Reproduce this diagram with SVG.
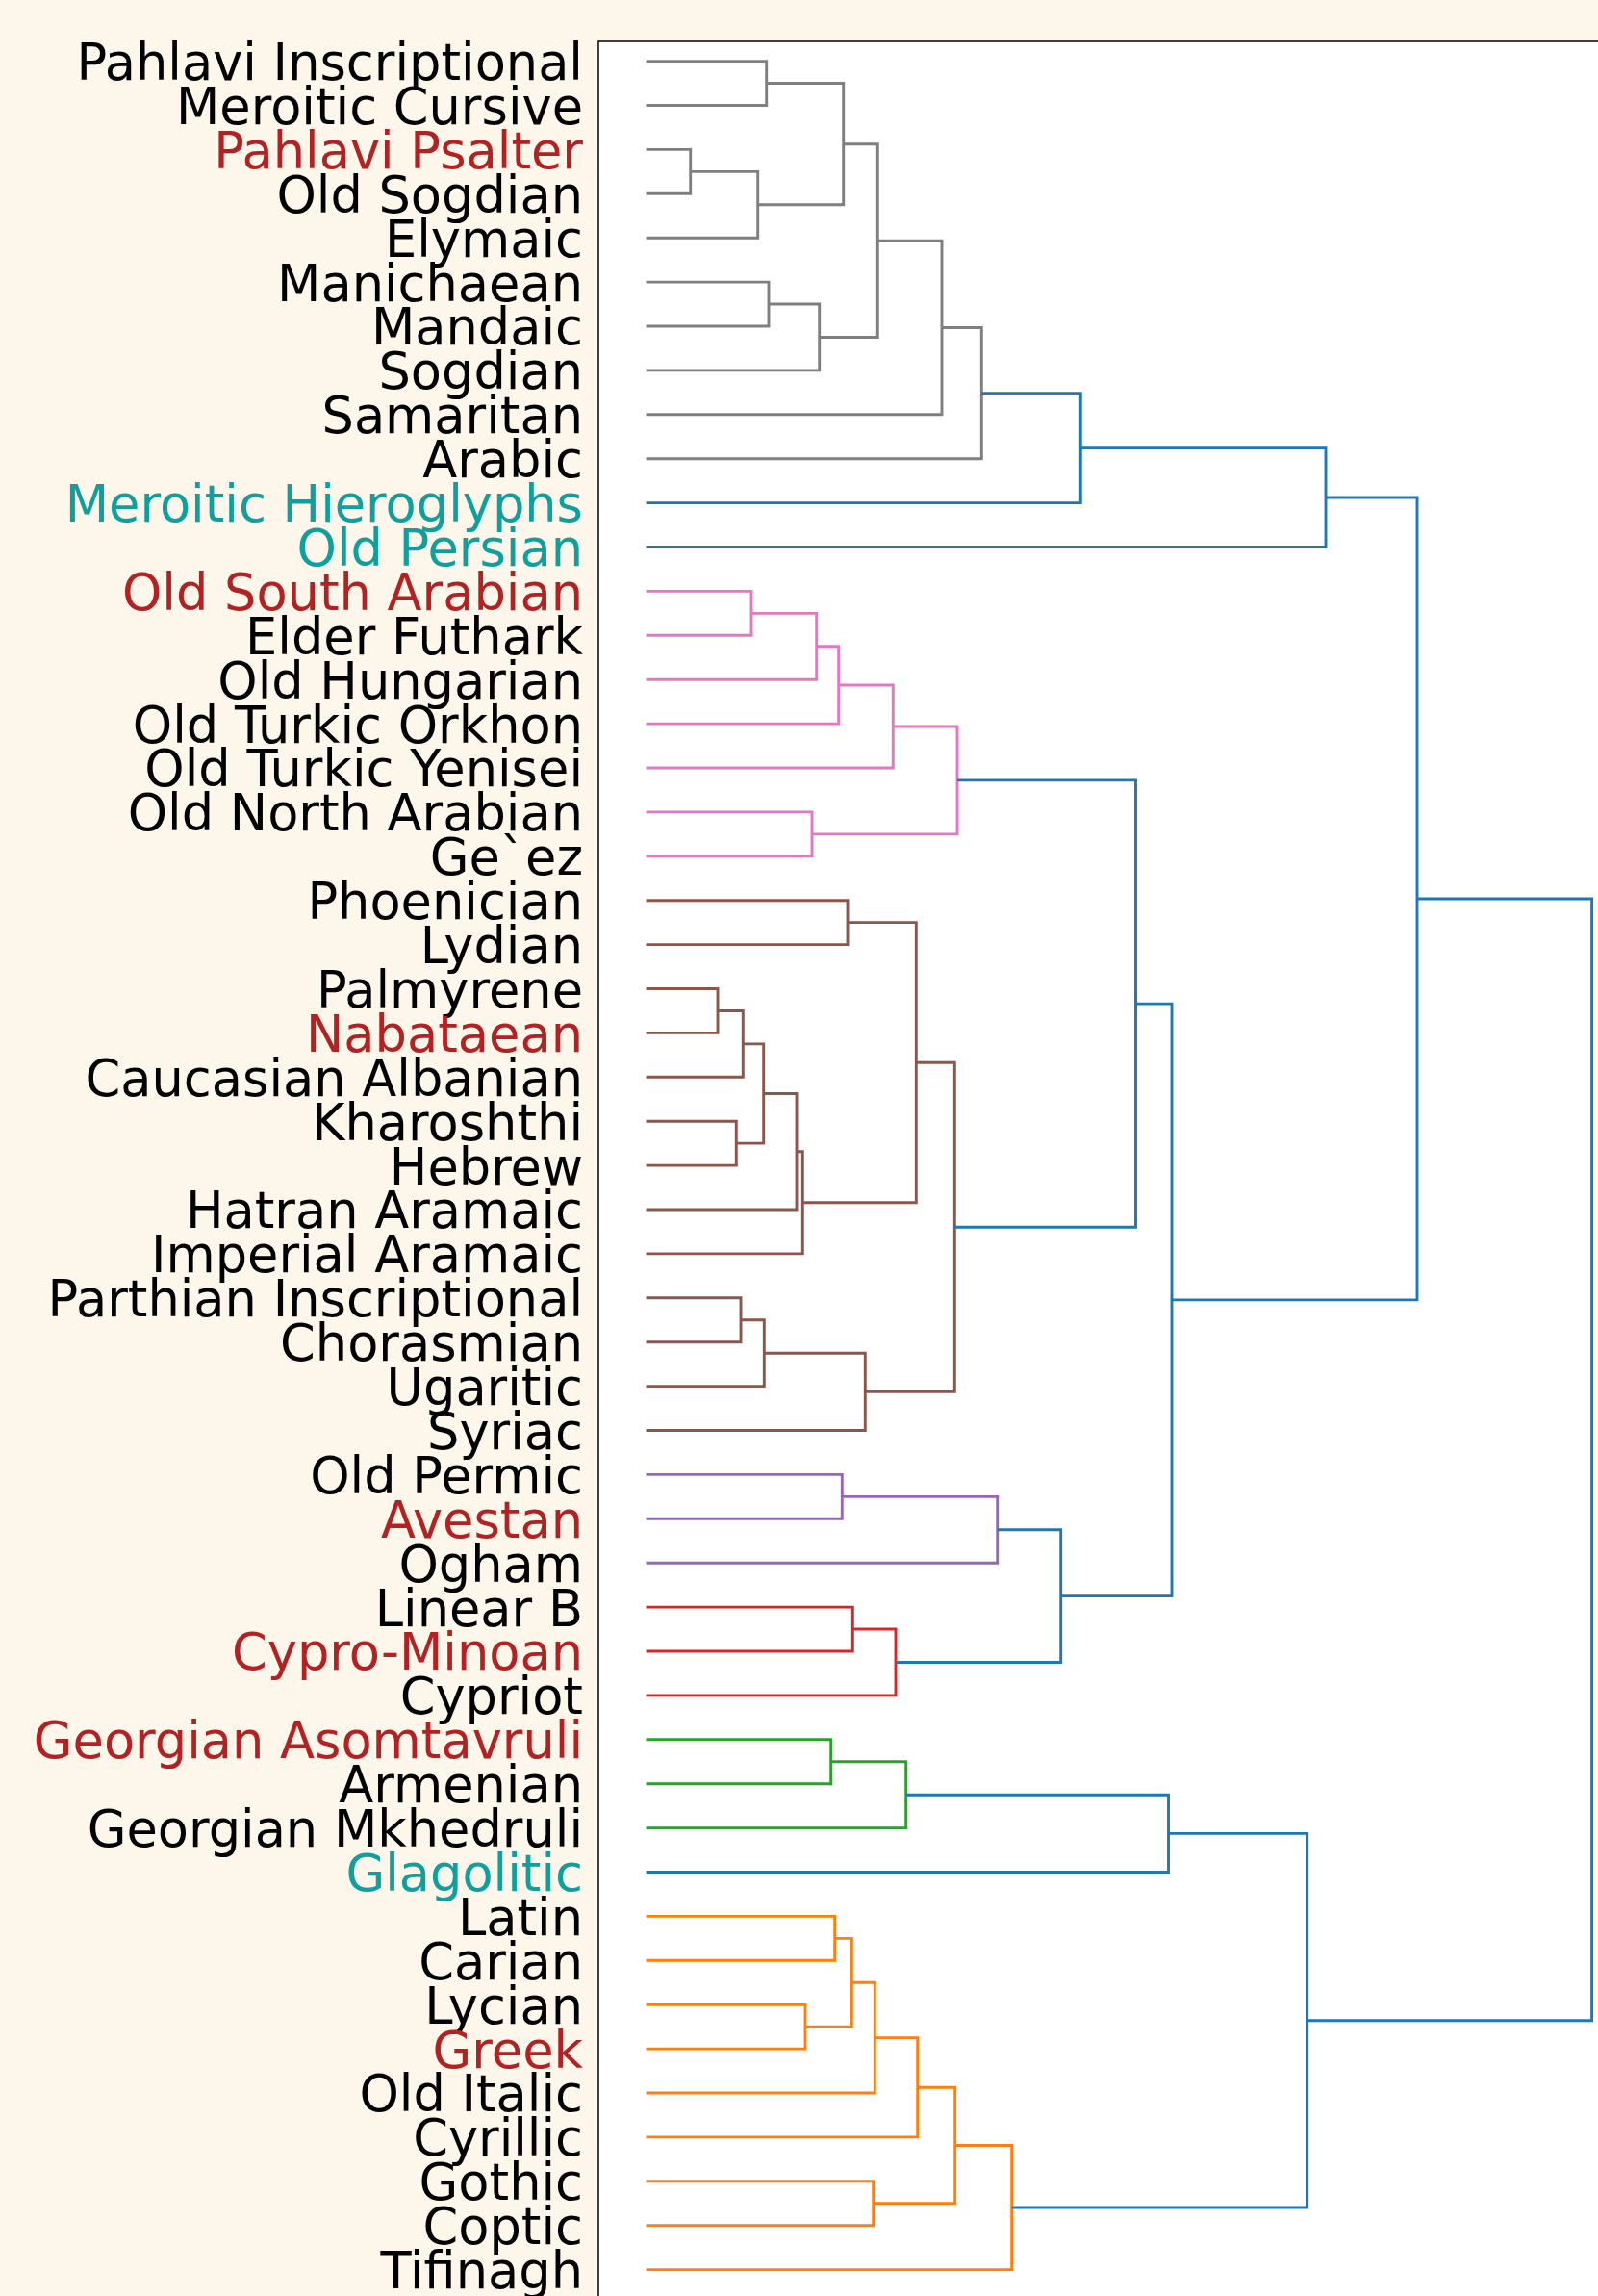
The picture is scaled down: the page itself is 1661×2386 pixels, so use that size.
<svg xmlns="http://www.w3.org/2000/svg" width="1661" height="2386" viewBox="0 0 1661 2386">
<style>
.lbl{font-family:"DejaVu Sans","Liberation Sans",sans-serif;font-size:52.6px;text-anchor:end;fill:#000}
.red{fill:#b22222}
.teal{fill:#0f9f9c}
.lk{fill:none;stroke-width:2.9;stroke-linejoin:miter;stroke-linecap:butt}
.c0{stroke:#1f77b4}.c1{stroke:#ff7f0e}.c2{stroke:#2ca02c}.c3{stroke:#d62728}.c4{stroke:#9467bd}.c5{stroke:#8c564b}.c6{stroke:#e377c2}.c7{stroke:#7f7f7f}
</style>
<rect x="0" y="0" width="1661" height="2386" fill="#fdf6eb"/>
<rect id="plot-frame" x="622" y="43" width="1100" height="2400" fill="#ffffff" stroke="#111111" stroke-width="1.6"/>
<g id="labels" transform="translate(0,-1)">
<g id="leaf-0"><text class="lbl" x="606" y="84">Pahlavi Inscriptional</text></g>
<g id="leaf-1"><text class="lbl" x="606" y="129.9">Meroitic Cursive</text></g>
<g id="leaf-2"><text class="lbl red" x="606" y="175.8">Pahlavi Psalter</text></g>
<g id="leaf-3"><text class="lbl" x="606" y="221.7">Old Sogdian</text></g>
<g id="leaf-4"><text class="lbl" x="606" y="267.6">Elymaic</text></g>
<g id="leaf-5"><text class="lbl" x="606" y="313.5">Manichaean</text></g>
<g id="leaf-6"><text class="lbl" x="606" y="359.4">Mandaic</text></g>
<g id="leaf-7"><text class="lbl" x="606" y="405.3">Sogdian</text></g>
<g id="leaf-8"><text class="lbl" x="606" y="451.2">Samaritan</text></g>
<g id="leaf-9"><text class="lbl" x="606" y="497.1">Arabic</text></g>
<g id="leaf-10"><text class="lbl teal" x="606" y="543">Meroitic Hieroglyphs</text></g>
<g id="leaf-11"><text class="lbl teal" x="606" y="588.9">Old Persian</text></g>
<g id="leaf-12"><text class="lbl red" x="606" y="634.8">Old South Arabian</text></g>
<g id="leaf-13"><text class="lbl" x="606" y="680.7">Elder Futhark</text></g>
<g id="leaf-14"><text class="lbl" x="606" y="726.6">Old Hungarian</text></g>
<g id="leaf-15"><text class="lbl" x="606" y="772.5">Old Turkic Orkhon</text></g>
<g id="leaf-16"><text class="lbl" x="606" y="818.4">Old Turkic Yenisei</text></g>
<g id="leaf-17"><text class="lbl" x="606" y="864.3">Old North Arabian</text></g>
<g id="leaf-18"><text class="lbl" x="606" y="910.2">Ge`ez</text></g>
<g id="leaf-19"><text class="lbl" x="606" y="956.1">Phoenician</text></g>
<g id="leaf-20"><text class="lbl" x="606" y="1002">Lydian</text></g>
<g id="leaf-21"><text class="lbl" x="606" y="1047.9">Palmyrene</text></g>
<g id="leaf-22"><text class="lbl red" x="606" y="1093.8">Nabataean</text></g>
<g id="leaf-23"><text class="lbl" x="606" y="1139.7">Caucasian Albanian</text></g>
<g id="leaf-24"><text class="lbl" x="606" y="1185.6">Kharoshthi</text></g>
<g id="leaf-25"><text class="lbl" x="606" y="1231.5">Hebrew</text></g>
<g id="leaf-26"><text class="lbl" x="606" y="1277.4">Hatran Aramaic</text></g>
<g id="leaf-27"><text class="lbl" x="606" y="1323.3">Imperial Aramaic</text></g>
<g id="leaf-28"><text class="lbl" x="606" y="1369.2">Parthian Inscriptional</text></g>
<g id="leaf-29"><text class="lbl" x="606" y="1415.1">Chorasmian</text></g>
<g id="leaf-30"><text class="lbl" x="606" y="1461">Ugaritic</text></g>
<g id="leaf-31"><text class="lbl" x="606" y="1506.9">Syriac</text></g>
<g id="leaf-32"><text class="lbl" x="606" y="1552.8">Old Permic</text></g>
<g id="leaf-33"><text class="lbl red" x="606" y="1598.7">Avestan</text></g>
<g id="leaf-34"><text class="lbl" x="606" y="1644.6">Ogham</text></g>
<g id="leaf-35"><text class="lbl" x="606" y="1690.5">Linear B</text></g>
<g id="leaf-36"><text class="lbl red" x="606" y="1736.4">Cypro-Minoan</text></g>
<g id="leaf-37"><text class="lbl" x="606" y="1782.3">Cypriot</text></g>
<g id="leaf-38"><text class="lbl red" x="606" y="1828.2">Georgian Asomtavruli</text></g>
<g id="leaf-39"><text class="lbl" x="606" y="1874.1">Armenian</text></g>
<g id="leaf-40"><text class="lbl" x="606" y="1920">Georgian Mkhedruli</text></g>
<g id="leaf-41"><text class="lbl teal" x="606" y="1965.9">Glagolitic</text></g>
<g id="leaf-42"><text class="lbl" x="606" y="2011.8">Latin</text></g>
<g id="leaf-43"><text class="lbl" x="606" y="2057.7">Carian</text></g>
<g id="leaf-44"><text class="lbl" x="606" y="2103.6">Lycian</text></g>
<g id="leaf-45"><text class="lbl red" x="606" y="2149.5">Greek</text></g>
<g id="leaf-46"><text class="lbl" x="606" y="2195.4">Old Italic</text></g>
<g id="leaf-47"><text class="lbl" x="606" y="2241.3">Cyrillic</text></g>
<g id="leaf-48"><text class="lbl" x="606" y="2287.2">Gothic</text></g>
<g id="leaf-49"><text class="lbl" x="606" y="2333.1">Coptic</text></g>
<g id="leaf-50"><text class="lbl" x="606" y="2379">Tifinagh</text></g>
</g>
<g id="connectors">
<g class="c7">
<path class="lk c7" d="M671.5 63.6H796.7V109.5H671.5"/>
<path class="lk c7" d="M671.5 155.4H717.7V201.3H671.5"/>
<path class="lk c7" d="M717.7 178.35H787.7V247.2H671.5"/>
<path class="lk c7" d="M796.7 86.55H876.7V212.8H787.7"/>
<path class="lk c7" d="M671.5 293.1H799V339H671.5"/>
<path class="lk c7" d="M799 316.05H851.7V384.9H671.5"/>
<path class="lk c7" d="M876.7 149.7H912.3V350.5H851.7"/>
<path class="lk c7" d="M912.3 250.1H979V430.8H671.5"/>
<path class="lk c7" d="M979 340.45H1020.3V476.7H671.5"/>
</g>
<path class="lk c6" d="M671.5 614.4H781V660.3H671.5"/>
<path class="lk c6" d="M781 637.35H848.7V706.2H671.5"/>
<path class="lk c6" d="M848.7 671.8H871.7V752.1H671.5"/>
<path class="lk c6" d="M871.7 711.95H928.3V798H671.5"/>
<path class="lk c6" d="M671.5 843.9H844V889.8H671.5"/>
<path class="lk c6" d="M928.3 754.98H995V866.85H844"/>
<path class="lk c5" d="M671.5 935.7H881V981.6H671.5"/>
<path class="lk c5" d="M671.5 1027.5H746V1073.4H671.5"/>
<path class="lk c5" d="M746 1050.45H772.3V1119.3H671.5"/>
<path class="lk c5" d="M671.5 1165.2H765.3V1211.1H671.5"/>
<path class="lk c5" d="M772.3 1084.9H793.7V1188.15H765.3"/>
<path class="lk c5" d="M793.7 1136.5H828V1257H671.5"/>
<path class="lk c5" d="M828 1196.75H834.3V1302.9H671.5"/>
<path class="lk c5" d="M881 958.65H952.3V1249.8H834.3"/>
<path class="lk c5" d="M671.5 1348.8H770V1394.7H671.5"/>
<path class="lk c5" d="M770 1371.75H794.3V1440.6H671.5"/>
<path class="lk c5" d="M794.3 1406.2H899.3V1486.5H671.5"/>
<path class="lk c5" d="M952.3 1104.2H992.3V1446.35H899.3"/>
<path class="lk c4" d="M671.5 1532.4H875.3V1578.3H671.5"/>
<path class="lk c4" d="M875.3 1555.35H1036.7V1624.2H671.5"/>
<path class="lk c3" d="M671.5 1670.1H886.3V1716H671.5"/>
<path class="lk c3" d="M886.3 1693.05H931V1761.9H671.5"/>
<path class="lk c2" d="M671.5 1807.8H863.7V1853.7H671.5"/>
<path class="lk c2" d="M863.7 1830.75H941.7V1899.6H671.5"/>
<path class="lk c1" d="M671.5 1991.4H867.7V2037.3H671.5"/>
<path class="lk c1" d="M671.5 2083.2H837V2129.1H671.5"/>
<path class="lk c1" d="M867.7 2014.35H885.3V2106.15H837"/>
<path class="lk c1" d="M885.3 2060.25H909.3V2175H671.5"/>
<path class="lk c1" d="M909.3 2117.6H953.7V2220.9H671.5"/>
<path class="lk c1" d="M671.5 2266.8H907.7V2312.7H671.5"/>
<path class="lk c1" d="M953.7 2169.25H992.7V2289.75H907.7"/>
<path class="lk c1" d="M992.7 2229.5H1051.7V2358.6H671.5"/>
<path class="lk c0" d="M1020.3 408.6H1123.3V522.6H671.5"/>
<path class="lk c0" d="M1123.3 465.6H1378V568.5H671.5"/>
<path class="lk c0" d="M995 810.9H1180.5V1275.3H992.3"/>
<path class="lk c0" d="M1036.7 1589.8H1102.7V1727.5H931"/>
<path class="lk c0" d="M1180.5 1043.1H1218V1658.65H1102.7"/>
<path class="lk c0" d="M1378 517.05H1473V1350.9H1218"/>
<path class="lk c0" d="M941.7 1865.2H1214.5V1945.5H671.5"/>
<path class="lk c0" d="M1214.5 1905.35H1358.7V2294.05H1051.7"/>
<path class="lk c0" d="M1473 933.95H1654.6V2099.7H1358.7"/>
</g>
</svg>
